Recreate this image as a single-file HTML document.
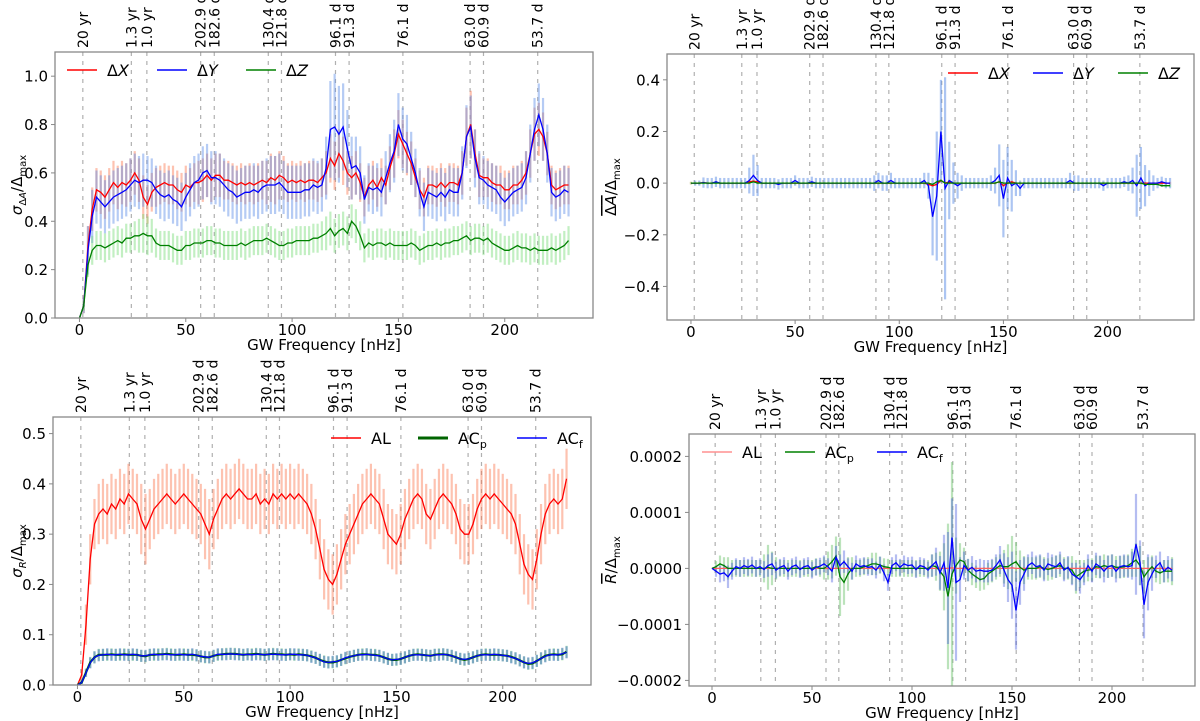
<!DOCTYPE html>
<html><head><meta charset="utf-8"><style>
body{margin:0;background:#fff;overflow:hidden;}
svg{display:block;font-family:"DejaVu Sans","Liberation Sans",sans-serif;}
</style></head><body>
<svg id="fig" width="1200" height="721" viewBox="0 0 1200 721" xmlns="http://www.w3.org/2000/svg"></svg>
<script>
const freq=[0,2,4,6,8,10,12,14,16,18,20,22,24,26,28,30,32,34,36,38,40,42,44,46,48,50,52,54,56,58,60,62,64,66,68,70,72,74,76,78,80,82,84,86,88,90,92,94,96,98,100,102,104,106,108,110,112,114,116,118,120,122,124,126,128,130,132,134,136,138,140,142,144,146,148,150,152,154,156,158,160,162,164,166,168,170,172,174,176,178,180,182,184,186,188,190,192,194,196,198,200,202,204,206,208,210,212,214,216,218,220,222,224,226,228,230];
const periodFreqs=[1.585,24.4,31.7,57.0,63.4,88.8,95.0,120.4,126.8,152.1,183.7,190.0,215.5];
const periodLabels=["20 yr","1.3 yr","1.0 yr","202.9 d","182.6 d","130.4 d","121.8 d","96.1 d","91.3 d","76.1 d","63.0 d","60.9 d","53.7 d"];
const xTicks=[0,50,100,150,200];
// Panel A: sigma_DeltaA
const aX=[0,0.05,0.3,0.45,0.53,0.52,0.5,0.53,0.56,0.54,0.56,0.55,0.57,0.6,0.57,0.5,0.47,0.52,0.54,0.55,0.56,0.55,0.55,0.53,0.52,0.55,0.54,0.56,0.56,0.57,0.59,0.57,0.59,0.59,0.57,0.57,0.56,0.55,0.56,0.55,0.56,0.55,0.56,0.57,0.56,0.58,0.57,0.59,0.58,0.56,0.57,0.56,0.57,0.56,0.57,0.57,0.56,0.58,0.6,0.66,0.63,0.68,0.65,0.6,0.58,0.6,0.56,0.5,0.55,0.57,0.54,0.58,0.55,0.62,0.68,0.76,0.72,0.68,0.64,0.58,0.53,0.5,0.55,0.55,0.54,0.56,0.54,0.56,0.56,0.55,0.6,0.75,0.8,0.68,0.59,0.58,0.58,0.56,0.55,0.55,0.53,0.53,0.55,0.55,0.57,0.6,0.68,0.76,0.78,0.75,0.68,0.55,0.53,0.54,0.55,0.55];
const aY=[0,0.05,0.28,0.42,0.5,0.48,0.46,0.48,0.5,0.51,0.52,0.53,0.55,0.57,0.56,0.57,0.57,0.56,0.53,0.51,0.5,0.51,0.49,0.48,0.46,0.5,0.53,0.56,0.57,0.6,0.61,0.58,0.58,0.57,0.55,0.53,0.52,0.5,0.51,0.52,0.52,0.53,0.52,0.54,0.55,0.55,0.55,0.56,0.54,0.52,0.52,0.52,0.52,0.53,0.53,0.55,0.54,0.55,0.62,0.78,0.79,0.76,0.79,0.7,0.62,0.63,0.6,0.49,0.54,0.53,0.54,0.52,0.58,0.64,0.69,0.8,0.74,0.72,0.66,0.6,0.52,0.46,0.52,0.51,0.5,0.52,0.5,0.53,0.52,0.52,0.6,0.75,0.79,0.66,0.58,0.57,0.55,0.54,0.53,0.5,0.48,0.5,0.52,0.53,0.54,0.58,0.68,0.78,0.84,0.78,0.68,0.52,0.5,0.51,0.53,0.52];
const aZ=[0,0.05,0.22,0.28,0.3,0.3,0.29,0.3,0.31,0.32,0.31,0.33,0.33,0.34,0.34,0.35,0.34,0.34,0.31,0.3,0.3,0.3,0.29,0.28,0.28,0.3,0.3,0.31,0.31,0.31,0.32,0.32,0.31,0.31,0.3,0.3,0.3,0.3,0.31,0.3,0.31,0.32,0.32,0.32,0.33,0.32,0.31,0.3,0.3,0.31,0.31,0.32,0.32,0.32,0.32,0.33,0.33,0.34,0.35,0.37,0.34,0.36,0.37,0.35,0.4,0.38,0.34,0.29,0.31,0.3,0.31,0.31,0.3,0.31,0.3,0.3,0.3,0.3,0.31,0.3,0.28,0.29,0.3,0.3,0.31,0.3,0.31,0.31,0.32,0.32,0.33,0.34,0.32,0.33,0.33,0.32,0.33,0.31,0.3,0.29,0.28,0.28,0.29,0.3,0.29,0.29,0.28,0.29,0.28,0.28,0.28,0.29,0.28,0.29,0.3,0.32];
const aXerr=[0,0.03,0.08,0.09,0.09,0.09,0.09,0.09,0.09,0.09,0.09,0.09,0.09,0.09,0.09,0.09,0.08,0.08,0.08,0.08,0.08,0.08,0.08,0.08,0.08,0.08,0.08,0.08,0.09,0.09,0.09,0.09,0.09,0.09,0.08,0.08,0.08,0.08,0.08,0.08,0.08,0.08,0.08,0.08,0.09,0.1,0.1,0.1,0.09,0.08,0.08,0.08,0.08,0.08,0.08,0.08,0.08,0.08,0.09,0.1,0.1,0.1,0.1,0.09,0.09,0.09,0.08,0.08,0.08,0.08,0.08,0.08,0.08,0.09,0.1,0.1,0.1,0.09,0.09,0.08,0.08,0.08,0.08,0.08,0.08,0.08,0.08,0.08,0.08,0.08,0.09,0.12,0.14,0.1,0.09,0.08,0.08,0.08,0.08,0.08,0.08,0.08,0.08,0.08,0.08,0.09,0.1,0.11,0.11,0.1,0.09,0.08,0.08,0.08,0.08,0.08];
const aYerr=[0,0.03,0.1,0.11,0.11,0.11,0.11,0.11,0.11,0.11,0.11,0.11,0.11,0.11,0.11,0.11,0.1,0.1,0.1,0.1,0.1,0.1,0.1,0.1,0.1,0.1,0.11,0.11,0.11,0.11,0.11,0.11,0.11,0.11,0.11,0.11,0.11,0.11,0.11,0.11,0.11,0.11,0.11,0.11,0.11,0.12,0.12,0.12,0.11,0.11,0.11,0.11,0.11,0.11,0.11,0.11,0.11,0.11,0.13,0.2,0.22,0.2,0.18,0.16,0.13,0.12,0.11,0.1,0.1,0.1,0.1,0.1,0.11,0.12,0.13,0.13,0.13,0.12,0.11,0.1,0.1,0.1,0.1,0.1,0.1,0.1,0.1,0.1,0.1,0.1,0.11,0.13,0.13,0.12,0.11,0.1,0.1,0.1,0.1,0.1,0.1,0.1,0.1,0.1,0.1,0.11,0.12,0.13,0.13,0.13,0.12,0.1,0.1,0.1,0.1,0.1];
const aZerr=[0,0.02,0.05,0.06,0.06,0.06,0.06,0.06,0.06,0.06,0.06,0.06,0.06,0.06,0.07,0.08,0.08,0.07,0.06,0.06,0.06,0.06,0.06,0.06,0.06,0.06,0.06,0.06,0.06,0.06,0.06,0.06,0.06,0.06,0.06,0.06,0.06,0.06,0.06,0.06,0.06,0.06,0.06,0.06,0.06,0.06,0.06,0.06,0.06,0.06,0.06,0.06,0.06,0.06,0.06,0.06,0.06,0.06,0.07,0.07,0.07,0.07,0.07,0.07,0.07,0.07,0.06,0.06,0.06,0.06,0.06,0.06,0.06,0.06,0.06,0.06,0.06,0.06,0.06,0.06,0.06,0.06,0.06,0.06,0.06,0.06,0.06,0.06,0.06,0.06,0.06,0.06,0.06,0.06,0.06,0.06,0.06,0.06,0.06,0.06,0.06,0.06,0.06,0.06,0.06,0.06,0.06,0.06,0.06,0.06,0.06,0.06,0.06,0.06,0.06,0.06];
// Panel B: mean DeltaA
const bX=[0,0,0,0.002,0,0,0.003,0,0,0,0,0,0,0,0.005,0.008,0.005,0,0,0,0,0,0,0,0,0,0,0,0,0,0,0,0,0,0,0,0,0,0,0,0,0,0,0,0,0,0,0,0,0,0,0,0,0,0,0,0,-0.005,-0.01,-0.005,0.01,0,0.005,0,0,0,0,0,0,0,0,0,0,0,0.005,-0.01,0,0.005,0,0,0,0,0,0,0,0,0,0,0,0,0,0,0,0,0,0,0,0,0,0,0,0,0,0,0,0,0,0,0,0,0,0,0,0,0,0];
const bY=[0,0,0,0.002,0,0,0.005,0,0,0,0,0,0,0,0.01,0.03,0.01,0,0,0,0,-0.005,0,0,0,0.01,0,0,0,0.005,0,0,0,0,0,0,0,0,0,0,0,0,0,0,0,0.01,0,0,0.01,0,0,0,0,0,0,0,0.01,-0.01,-0.13,-0.05,0.2,-0.02,0.01,0,-0.01,0,0,0,0,0,0,0,0,0.01,0.03,-0.06,0.02,-0.01,0,-0.02,0,0,0,0,0,0,0,0,0,0,0,0.01,0,0,0,0,0,0,0,-0.01,0,0,0,0,0.005,0,0.01,-0.01,0.02,-0.01,0,0,0,0.005,0,0,0];
const bZ=[0,0,0,0,0,0,0,0,0,0,0,0,0,0,0,0.005,0,0,0,0,0,0,0,0,0,0,0,0,0,0,0,0,0,0,0,0,0,0,0,0,0,0,0,0,0,0,0,0,0,0,0,0,0,0,0,0,0,0,-0.005,0.005,0.01,0,0,0,0,0,0,0,0,0,0,0,0,0,0.005,0,0,0,0,0,0,0,0,0,0,0,0,0,0,0,0,0,0,0,0,0,0,0,0,0,0,0,0,0,0,0,0,0,0,-0.005,-0.005,-0.005,-0.005,-0.01,-0.01,-0.01];
const bYerr=[0,0.01,0.01,0.02,0.02,0.02,0.02,0.02,0.02,0.02,0.02,0.02,0.02,0.02,0.05,0.08,0.06,0.02,0.02,0.02,0.02,0.02,0.02,0.02,0.02,0.02,0.02,0.02,0.02,0.02,0.02,0.02,0.02,0.02,0.02,0.02,0.02,0.02,0.02,0.02,0.02,0.02,0.02,0.02,0.03,0.03,0.03,0.03,0.03,0.02,0.02,0.02,0.02,0.02,0.02,0.02,0.03,0.05,0.15,0.25,0.2,0.43,0.15,0.08,0.05,0.03,0.02,0.02,0.02,0.02,0.02,0.02,0.03,0.05,0.12,0.15,0.12,0.1,0.05,0.03,0.02,0.02,0.02,0.02,0.02,0.02,0.02,0.02,0.02,0.02,0.02,0.03,0.03,0.03,0.02,0.02,0.02,0.02,0.02,0.02,0.02,0.02,0.02,0.02,0.02,0.03,0.05,0.12,0.12,0.08,0.05,0.03,0.02,0.02,0.02,0.02];
// Panel C: sigma_R
const cAL=[0,0.02,0.12,0.25,0.32,0.34,0.35,0.34,0.36,0.35,0.37,0.36,0.38,0.37,0.36,0.33,0.31,0.33,0.35,0.36,0.37,0.38,0.37,0.36,0.37,0.38,0.37,0.36,0.35,0.34,0.32,0.3,0.33,0.35,0.37,0.38,0.37,0.38,0.39,0.38,0.37,0.37,0.38,0.36,0.37,0.36,0.38,0.37,0.38,0.37,0.38,0.37,0.38,0.37,0.36,0.34,0.31,0.27,0.23,0.21,0.2,0.22,0.25,0.28,0.3,0.32,0.34,0.36,0.37,0.38,0.37,0.36,0.33,0.3,0.29,0.28,0.3,0.33,0.35,0.37,0.38,0.37,0.34,0.33,0.35,0.37,0.38,0.37,0.36,0.34,0.31,0.3,0.3,0.32,0.35,0.37,0.38,0.37,0.38,0.37,0.36,0.35,0.34,0.32,0.28,0.24,0.22,0.21,0.25,0.3,0.34,0.36,0.37,0.36,0.37,0.41];
const cACp=[0,0.005,0.025,0.045,0.055,0.06,0.06,0.06,0.061,0.06,0.06,0.061,0.06,0.06,0.06,0.058,0.057,0.06,0.06,0.061,0.061,0.062,0.061,0.06,0.06,0.061,0.06,0.06,0.059,0.057,0.055,0.055,0.058,0.06,0.061,0.062,0.062,0.062,0.061,0.06,0.061,0.061,0.062,0.061,0.06,0.061,0.062,0.061,0.061,0.06,0.061,0.06,0.061,0.06,0.059,0.057,0.054,0.05,0.047,0.045,0.045,0.047,0.05,0.053,0.056,0.058,0.06,0.061,0.061,0.06,0.06,0.058,0.055,0.052,0.05,0.05,0.052,0.055,0.058,0.06,0.061,0.06,0.059,0.058,0.06,0.061,0.061,0.06,0.058,0.055,0.052,0.05,0.052,0.055,0.058,0.06,0.061,0.06,0.06,0.06,0.059,0.058,0.056,0.053,0.049,0.045,0.042,0.043,0.048,0.053,0.058,0.06,0.061,0.06,0.061,0.066];
const cACf=[0,0.005,0.024,0.044,0.055,0.059,0.06,0.061,0.06,0.06,0.061,0.06,0.06,0.061,0.06,0.058,0.058,0.06,0.061,0.06,0.061,0.061,0.06,0.06,0.061,0.06,0.06,0.061,0.059,0.057,0.056,0.055,0.058,0.061,0.061,0.061,0.062,0.061,0.061,0.06,0.061,0.06,0.061,0.061,0.06,0.061,0.061,0.061,0.06,0.06,0.061,0.061,0.06,0.06,0.059,0.056,0.054,0.05,0.046,0.045,0.046,0.047,0.05,0.054,0.056,0.058,0.06,0.06,0.061,0.06,0.059,0.058,0.055,0.052,0.05,0.051,0.052,0.055,0.058,0.06,0.06,0.06,0.059,0.058,0.06,0.06,0.061,0.06,0.058,0.055,0.052,0.051,0.052,0.055,0.058,0.06,0.06,0.06,0.061,0.06,0.059,0.058,0.055,0.053,0.049,0.045,0.043,0.044,0.048,0.053,0.057,0.06,0.06,0.06,0.062,0.065];
const cALerr=[0,0.01,0.04,0.05,0.05,0.06,0.06,0.06,0.06,0.06,0.06,0.06,0.06,0.06,0.06,0.07,0.07,0.06,0.06,0.06,0.06,0.06,0.06,0.06,0.06,0.06,0.06,0.06,0.06,0.06,0.07,0.07,0.06,0.06,0.06,0.06,0.06,0.06,0.06,0.06,0.06,0.06,0.06,0.06,0.06,0.06,0.06,0.06,0.06,0.06,0.06,0.06,0.06,0.06,0.06,0.06,0.06,0.06,0.06,0.06,0.06,0.06,0.06,0.06,0.06,0.06,0.06,0.06,0.06,0.06,0.06,0.06,0.06,0.06,0.06,0.06,0.06,0.06,0.06,0.06,0.06,0.06,0.06,0.06,0.06,0.06,0.06,0.06,0.06,0.06,0.06,0.06,0.06,0.06,0.06,0.06,0.06,0.06,0.06,0.06,0.06,0.06,0.06,0.06,0.06,0.06,0.06,0.06,0.06,0.06,0.06,0.06,0.06,0.06,0.06,0.06];
const cACerr=[0,0.003,0.008,0.011,0.012,0.012,0.012,0.012,0.012,0.012,0.012,0.012,0.012,0.012,0.012,0.012,0.012,0.012,0.012,0.012,0.012,0.012,0.012,0.012,0.012,0.012,0.012,0.012,0.012,0.012,0.012,0.012,0.012,0.012,0.012,0.012,0.012,0.012,0.012,0.012,0.012,0.012,0.012,0.012,0.012,0.012,0.012,0.012,0.012,0.012,0.012,0.012,0.012,0.012,0.012,0.012,0.012,0.012,0.012,0.012,0.012,0.012,0.012,0.012,0.012,0.012,0.012,0.012,0.012,0.012,0.012,0.012,0.012,0.012,0.012,0.012,0.012,0.012,0.012,0.012,0.012,0.012,0.012,0.012,0.012,0.012,0.012,0.012,0.012,0.012,0.012,0.012,0.012,0.012,0.012,0.012,0.012,0.012,0.012,0.012,0.012,0.012,0.012,0.012,0.012,0.012,0.012,0.012,0.012,0.012,0.012,0.012,0.012,0.012,0.012,0.012];
// Panel D: mean R, in units of 1e-5
const dAL=[0,0,0,0,0,0,0,0,0.05,0,0,0,0,0,0,0,0,0,0,0,0,0,0,0,0,0,0,0,0,0,0,0,0,0,0,0,0,0,0,0,0,0,0,0,0,0,0,0,0,0,0,0,0,0,0,0,0,0,0,0,0.1,0,0,0,0,0,0,0,0,0,0,0,0,0,0,0.1,0,0,0,0,0,0,0,0,0,0,0,0,0,0,0,0,0,0,0,0,0,0,0,0,0,0,0,0,0,0,0,0,0,0,0,0,0,0,0,0];
const dACp=[0,0.3,0.8,0.5,0,0,0,0,0,0,0,0,0,0,0.2,0,0,0,0,0,0,0,0,0,0,0,0.3,0,0,0.5,1.2,2.2,-1.5,-2.5,-1,0,0,0,0.3,0.5,0.8,0.8,0.6,0.3,0.2,0,0,0,0,0,0,0,0,0,0,0.5,0.3,-0.5,-1.5,-5,-1,0.5,1.5,1.2,-0.3,-1,-1.5,-2,-1.8,-1,-0.5,0,0.5,0.3,0.3,0.8,1.2,0.2,-0.3,0,0,0,0.3,0,-0.2,0,0.3,0.5,0,0,-0.3,-1.5,-1,-0.5,-0.3,-0.2,0.3,0.2,0.5,0.3,0.5,0.2,0.2,0.3,0.5,1,1.5,0.5,-1.5,-0.5,0.3,-0.5,-0.8,-0.5,-0.5,-0.5];
const dACf=[0,-0.5,-1,-0.8,-1.5,-0.5,0.3,0,0.5,0.2,0.6,0,0.3,-0.2,0.5,0.8,-0.3,0.2,0.5,-0.5,0.3,0.6,-0.2,0.3,0.5,-0.3,0.2,0.4,0.8,0.3,-0.5,2,0.5,1.2,0.3,-0.5,0.8,0.3,0.5,0.2,0.3,-0.3,0.6,-0.8,-2.5,0.5,1,0.2,0.8,0.5,0.6,-0.2,0.5,0.3,-0.3,0.5,1.2,-0.8,1,-3.5,5.5,-2.5,-2,0.5,-0.3,0.2,-0.5,-0.3,-0.5,-0.5,-0.3,0.5,1.5,-0.3,-2,-3,-7.5,-2.5,-1,0.5,1,0.3,0.5,-0.3,0.8,0.5,0.3,1,-0.3,0.2,-1,-1.5,-2,-1,0.5,-0.5,0.8,0.3,-0.5,0.3,0.5,-0.5,0.3,0.5,0.3,0.5,4.3,1,-6.5,-2.5,-1,0.3,1,-0.5,0.2,-0.3];
const dACpErr=[0,1,1.5,1.5,2,1.5,1.5,1.5,1.5,1.5,1.5,1.5,1.5,2.5,4,3,2,1.5,1.5,1.5,1.5,1.5,1.5,1.5,1.5,1.5,1.5,1.5,2,2.5,3,3.5,7,4,3,2,1.5,1.5,1.5,1.5,2,2,1.5,1.5,1.5,1.5,1.5,1.5,1.5,1.5,1.5,1.5,1.5,1.5,1.5,2,2.5,3.5,6,13,20,5,3,2.5,2,2,2,2,2,2,2,2,2,3,4,5,3.5,3,2.5,2,2,2,2,2,2,2,2,2,2,2,2.5,3,2.5,2,2,2,2,2,2,2,2,2,2,2,2,2.5,3,3.5,3,2.5,2,2,2,2,2,2.5];
const dACfErr=[0,1,1.5,1.5,2,1.5,1.5,1.5,1.5,1.5,1.5,1.5,1.5,1.5,2,2,1.5,1.5,1.5,1.5,1.5,1.5,1.5,1.5,1.5,1.5,1.5,1.5,1.5,1.5,2,2,2,2,1.5,1.5,1.5,1.5,1.5,1.5,1.5,1.5,1.5,1.5,1.5,1.5,1.5,1.5,1.5,1.5,1.5,1.5,1.5,1.5,1.5,2,2.5,3,5,10,7,14,4,2.5,2,2,2,2,2,2,2,2,2.5,3,4,6,7,4,3,2,2,2,2,2,2,2,2,2,2,2,2,2.5,2.5,2,2,2,2,2,2,2,2,2,2,2,2,2.5,9,4,6,5,3,2,2,2,2,2];
const smallErrB=[0.005,0.005];
const smallErrD=[0.05,0.05];

const svg=document.getElementById('fig');
const NS='http://www.w3.org/2000/svg';
const defs=document.createElementNS(NS,'defs');svg.appendChild(defs);
function el(tag,attrs,parent){const e=document.createElementNS(NS,tag);for(const k in attrs)e.setAttribute(k,attrs[k]);(parent||svg).appendChild(e);return e;}
let clipId=0;
function makePanel(cfg){
  const g=el('g',{});
  
  
  const X=f=>cfg.left+(f-cfg.xmin)/(cfg.xmax-cfg.xmin)*(cfg.right-cfg.left);
  const Y=v=>cfg.bottom-(v-cfg.ymin)/(cfg.ymax-cfg.ymin)*(cfg.bottom-cfg.top);
  const cid='clip'+(clipId++);
  const cp=el('clipPath',{id:cid},defs);
  el('rect',{x:cfg.left,y:cfg.top,width:cfg.right-cfg.left,height:cfg.bottom-cfg.top},cp);
  const inner=el('g',{'clip-path':`url(#${cid})`},g);
  periodFreqs.forEach((pf,i)=>{
    const l=el('line',{x1:X(pf),x2:X(pf),y1:cfg.top,y2:cfg.bottom,stroke:'#b0b0b0','stroke-width':1.2,'stroke-dasharray':'4,5'},inner);
    
    
    const tx=X(pf)+5, ty=cfg.top-4;
    const t=el('text',{x:tx,y:ty,'font-size':14,fill:'#000',transform:`rotate(-90 ${tx} ${ty})`},g);
    t.textContent=periodLabels[i];
    
    
  });
  cfg.series.forEach(s=>{
    const eg=el('g',{stroke:s.errColor,'stroke-width':2.2},inner);
    
    
    const n=Math.min(freq.length,s.vals.length);
    for(let i=0;i<n;i++){
      const er=s.errs.length>i?s.errs[i]:s.errs[s.errs.length-1];
      const b=el('line',{x1:X(freq[i]),x2:X(freq[i]),y1:Y(s.vals[i]-er),y2:Y(s.vals[i]+er)},eg);
      
      
    }
  });
  cfg.series.forEach(s=>{
    const n=Math.min(freq.length,s.vals.length);
    let d='';
    for(let i=0;i<n;i++)d+=(i?'L':'M')+X(freq[i]).toFixed(1)+','+Y(s.vals[i]).toFixed(1);
    const p=el('path',{d:d,fill:'none',stroke:s.color,'stroke-width':s.lw||1.3},inner);
    
    
  });
  const fr=el('rect',{x:cfg.left,y:cfg.top,width:cfg.right-cfg.left,height:cfg.bottom-cfg.top,fill:'none',stroke:'#888','stroke-width':1.3},g);
  
  
  xTicks.forEach(v=>{
    el('line',{x1:X(v),x2:X(v),y1:cfg.bottom,y2:cfg.bottom+4,stroke:'#888'},g);
    const t=el('text',{x:X(v),y:cfg.bottom+17,'font-size':15,'text-anchor':'middle'},g);
    t.textContent=v;
    
    
  });
  const xl=el('text',{x:(cfg.left+cfg.right)/2,y:cfg.bottom+32,'font-size':15,'text-anchor':'middle'},g);
  xl.textContent='GW Frequency [nHz]';
  
  
  cfg.yTicks.forEach((v,i)=>{
    el('line',{x1:cfg.left-4,x2:cfg.left,y1:Y(v),y2:Y(v),stroke:'#888'},g);
    const t=el('text',{x:cfg.left-7,y:Y(v)+5.5,'font-size':15,'text-anchor':'end'},g);
    t.textContent=cfg.yTickLabels[i];
    
    
  });
  const yx=cfg.ytitleX, yy=(cfg.top+cfg.bottom)/2;
  const yt=el('text',{x:yx,y:yy,'font-size':15,'text-anchor':'middle',transform:`rotate(-90 ${yx} ${yy})`},g);
  yt.innerHTML=cfg.ytitle;
  
  
  cfg.legend.forEach(L=>{
    const lg=el('g',{},g);
    
    
    el('line',{x1:L.x,x2:L.x+30,y1:cfg.legendY,y2:cfg.legendY,stroke:L.color,'stroke-width':L.lw||1.5},lg);
    const t=el('text',{x:L.x+40,y:cfg.legendY+6,'font-size':16},lg);
    t.innerHTML=L.label;
  });
}

makePanel({name:'panel-sigma-delta-a',left:55,right:593,top:52,bottom:318,xmin:-11.5,xmax:241.5,ymin:0,ymax:1.10,
  yTicks:[0,0.2,0.4,0.6,0.8,1.0],yTickLabels:['0.0','0.2','0.4','0.6','0.8','1.0'],ytitleX:22,
  ytitle:'<tspan font-style="italic">σ</tspan><tspan font-size="10" dy="4">Δ<tspan font-style="italic">A</tspan></tspan><tspan dy="-4">/Δ</tspan><tspan font-size="10" dy="4">max</tspan>',
  series:[{key:'delta-x',vals:aX,errs:aXerr,color:'#ff0000',errColor:'rgba(250,120,80,0.45)'},
          {key:'delta-y',vals:aY,errs:aYerr,color:'#0000ff',errColor:'rgba(90,140,230,0.45)'},
          {key:'delta-z',vals:aZ,errs:aZerr,color:'#008000',errColor:'rgba(120,220,120,0.45)'}],
  legendY:70,legend:[{x:67,color:'#ff0000',label:'Δ<tspan font-style="italic">X</tspan>'},{x:157,color:'#0000ff',label:'Δ<tspan font-style="italic">Y</tspan>'},{x:246,color:'#008000',label:'Δ<tspan font-style="italic">Z</tspan>'}]});

makePanel({name:'panel-mean-delta-a',left:667,right:1194,top:54,bottom:320,xmin:-11.5,xmax:241.5,ymin:-0.53,ymax:0.5,
  yTicks:[-0.4,-0.2,0,0.2,0.4],yTickLabels:['−0.4','−0.2','0.0','0.2','0.4'],ytitleX:616,
  ytitle:'<tspan text-decoration="overline">Δ<tspan font-style="italic">A</tspan></tspan>/Δ<tspan font-size="10" dy="4">max</tspan>',
  series:[{key:'delta-x',vals:bX,errs:smallErrB,color:'#ff0000',errColor:'rgba(250,120,80,0.45)'},
          {key:'delta-y',vals:bY,errs:bYerr,color:'#0000ff',errColor:'rgba(90,140,230,0.5)'},
          {key:'delta-z',vals:bZ,errs:smallErrB,color:'#008000',errColor:'rgba(120,220,120,0.45)'}],
  legendY:73,legend:[{x:948,color:'#ff0000',label:'Δ<tspan font-style="italic">X</tspan>'},{x:1033,color:'#0000ff',label:'Δ<tspan font-style="italic">Y</tspan>'},{x:1118,color:'#008000',label:'Δ<tspan font-style="italic">Z</tspan>'}]});

makePanel({name:'panel-sigma-r',left:53,right:591,top:417,bottom:685,xmin:-11.5,xmax:241.5,ymin:0,ymax:0.533,
  yTicks:[0,0.1,0.2,0.3,0.4,0.5],yTickLabels:['0.0','0.1','0.2','0.3','0.4','0.5'],ytitleX:22,
  ytitle:'<tspan font-style="italic">σ</tspan><tspan font-size="10" dy="4" font-style="italic">R</tspan><tspan dy="-4">/Δ</tspan><tspan font-size="10" dy="4">max</tspan>',
  series:[{key:'al',vals:cAL,errs:cALerr,color:'#ff0000',errColor:'rgba(250,120,80,0.45)'},
          {key:'ac-p',vals:cACp,errs:cACerr,color:'#006400',errColor:'rgba(120,220,120,0.5)',lw:2.2},
          {key:'ac-f',vals:cACf,errs:cACerr,color:'#0000ff',errColor:'rgba(60,100,200,0.5)'}],
  legendY:438,legend:[{x:331,color:'#ff0000',label:'AL'},{x:418,color:'#006400',lw:3,label:'AC<tspan font-size="11" dy="4">p</tspan>'},{x:517,color:'#0000ff',label:'AC<tspan font-size="11" dy="4">f</tspan>'}]});

makePanel({name:'panel-mean-r',left:689,right:1195,top:434,bottom:686,xmin:-11.5,xmax:241.5,ymin:-21,ymax:24,
  yTicks:[-20,-10,0,10,20],yTickLabels:['−0.0002','−0.0001','0.0000','0.0001','0.0002'],ytitleX:616,
  ytitle:'<tspan text-decoration="overline" font-style="italic">R</tspan>/Δ<tspan font-size="10" dy="4">max</tspan>',
  series:[{key:'al',vals:dAL,errs:smallErrD,color:'#ff6060',errColor:'rgba(250,120,80,0.4)'},
          {key:'ac-p',vals:dACp,errs:dACpErr,color:'#008000',errColor:'rgba(120,200,120,0.5)'},
          {key:'ac-f',vals:dACf,errs:dACfErr,color:'#0000ff',errColor:'rgba(70,90,220,0.4)'}],
  legendY:452,legend:[{x:702,color:'#ff9090',label:'AL'},{x:785,color:'#008000',label:'AC<tspan font-size="11" dy="4">p</tspan>'},{x:877,color:'#0000ff',label:'AC<tspan font-size="11" dy="4">f</tspan>'}]});
</script>
</body></html>
